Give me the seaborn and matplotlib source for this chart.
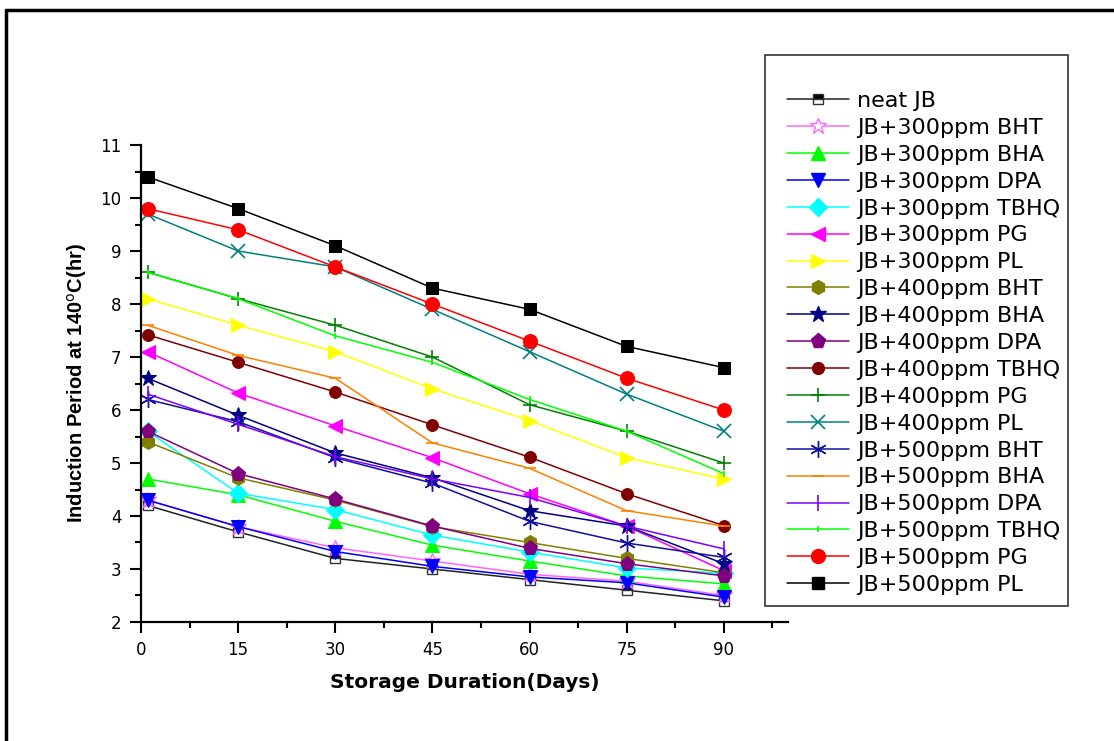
import matplotlib
matplotlib.use('Agg')
import matplotlib.pyplot as plt
import seaborn as sns
import pandas as pd
from matplotlib.ticker import MultipleLocator
from matplotlib.patches import Rectangle
from matplotlib.lines import Line2D

# storage days (first reading taken on day 1)
days = [1, 15, 30, 45, 60, 75, 90]

neat_jb = [4.2, 3.7, 3.2, 3.0, 2.8, 2.6, 2.4]
bht_300 = [4.3, 3.8, 3.4, 3.15, 2.9, 2.77, 2.5]
bha_300 = [4.7, 4.4, 3.9, 3.45, 3.15, 2.87, 2.72]
dpa_300 = [4.3, 3.8, 3.33, 3.05, 2.85, 2.74, 2.47]
tbhq_300 = [5.6, 4.43, 4.12, 3.64, 3.32, 3.02, 2.92]
pg_300 = [7.1, 6.32, 5.7, 5.1, 4.42, 3.81, 2.97]
pl_300 = [8.1, 7.6, 7.1, 6.4, 5.8, 5.1, 4.7]
bht_400 = [5.4, 4.72, 4.3, 3.8, 3.5, 3.2, 2.93]
bha_400 = [6.6, 5.9, 5.19, 4.72, 4.1, 3.81, 3.1]
dpa_400 = [5.6, 4.8, 4.32, 3.81, 3.39, 3.1, 2.87]
tbhq_400 = [7.42, 6.9, 6.34, 5.72, 5.11, 4.42, 3.82]
pg_400 = [8.6, 8.1, 7.6, 7.0, 6.1, 5.6, 5.0]
pl_400 = [9.7, 9.0, 8.7, 7.9, 7.1, 6.3, 5.6]
bht_500 = [6.2, 5.78, 5.1, 4.62, 3.9, 3.49, 3.22]
bha_500 = [7.6, 7.03, 6.6, 5.38, 4.9, 4.1, 3.81]
dpa_500 = [6.3, 5.73, 5.12, 4.7, 4.35, 3.81, 3.38]
tbhq_500 = [8.6, 8.1, 7.4, 6.9, 6.2, 5.6, 4.8]
pg_500 = [9.8, 9.4, 8.7, 8.0, 7.3, 6.6, 6.0]
pl_500 = [10.4, 9.8, 9.1, 8.3, 7.9, 7.2, 6.8]

labels = ['neat JB', 'JB+300ppm BHT', 'JB+300ppm BHA', 'JB+300ppm DPA', 'JB+300ppm TBHQ',
          'JB+300ppm PG', 'JB+300ppm PL', 'JB+400ppm BHT', 'JB+400ppm BHA', 'JB+400ppm DPA',
          'JB+400ppm TBHQ', 'JB+400ppm PG', 'JB+400ppm PL', 'JB+500ppm BHT', 'JB+500ppm BHA',
          'JB+500ppm DPA', 'JB+500ppm TBHQ', 'JB+500ppm PG', 'JB+500ppm PL']
series = [neat_jb, bht_300, bha_300, dpa_300, tbhq_300, pg_300, pl_300,
          bht_400, bha_400, dpa_400, tbhq_400, pg_400, pl_400,
          bht_500, bha_500, dpa_500, tbhq_500, pg_500, pl_500]

# line color, marker, marker size, extra marker style
styles = [
    ('#222222', 's', 7, dict(fillstyle='top', markerfacecolor='black', markerfacecoloralt='white', markeredgecolor='#333333', markeredgewidth=1)),
    ('#ff66ff', '*', 12, dict(markerfacecolor='white', markeredgecolor='#ff66ff', markeredgewidth=1)),
    ('#00ff00', '^', 10, {}),
    ('#0000ff', 'v', 10, {}),
    ('#00ffff', 'D', 9, {}),
    ('#ff00ff', '<', 10, {}),
    ('#ffff00', '>', 10, {}),
    ('#808000', 'h', 10, {}),
    ('#000080', '*', 12, {}),
    ('#800080', 'p', 11, {}),
    ('#800000', 'o', 8.5, {}),
    ('#008000', '+', 10, dict(markeredgewidth=1.2)),
    ('#008080', 'x', 10, dict(markeredgewidth=1.2)),
    ('#1010a0', (6, 2, 0), 12, dict(markeredgewidth=1.0)),
    ('#ff8000', '_', 9, dict(markeredgewidth=1.2)),
    ('#8000ff', '|', 11, dict(markeredgewidth=1.2)),
    ('#00ff00', '|', 5, dict(markeredgewidth=1.2)),
    ('#ff0000', 'o', 10, {}),
    ('#000000', 's', 9, {}),
]

sns.set_style('ticks')
# the original is stretched sideways, so the wider DejaVu face is used for horizontal text
plt.rcParams['font.family'] = ['DejaVu Sans']
plt.rcParams['text.color'] = 'black'
plt.rcParams['axes.labelcolor'] = 'black'
plt.rcParams['xtick.color'] = 'black'
plt.rcParams['ytick.color'] = 'black'

fig = plt.figure(figsize=(11.14, 7.41), dpi=100)
ax = fig.add_axes([0.1266, 0.1606, 0.5812, 0.6437])

handles = []
for lab, vals, (col, mk, ms, extra) in zip(labels, series, styles):
    df = pd.DataFrame({'day': days, 'value': vals})
    kw = dict(markeredgecolor=col, markerfacecolor=col)
    kw.update(extra)
    sns.lineplot(data=df, x='day', y='value', ax=ax, color=col, lw=1.1,
                 marker=mk, markersize=ms, label=lab, legend=False, **kw)
    handles.append(Line2D([], [], color=col, lw=1.1, marker=mk, markersize=ms, **kw))

ax.set_xlim(0, 100)
ax.set_ylim(2, 11)
ax.set_xticks([0, 15, 30, 45, 60, 75, 90])
ax.xaxis.set_minor_locator(MultipleLocator(7.5))
ax.yaxis.set_major_locator(MultipleLocator(1))
ax.yaxis.set_minor_locator(MultipleLocator(0.5))
ax.tick_params(which='major', direction='out', length=8, width=1.5, labelsize=12, color='black', pad=6)
ax.tick_params(which='minor', direction='out', length=4, width=1.5, color='black')
for s in ['top', 'right']:
    ax.spines[s].set_visible(False)
for s in ['left', 'bottom']:
    ax.spines[s].set_linewidth(1.6)
    ax.spines[s].set_color('black')
ax.grid(False)

ax.set_xlabel('Storage Duration(Days)', fontsize=14.5, fontweight='bold', labelpad=10)
ax.set_ylabel('Induction Period at 140$^{\\mathrm{o}}$C(hr)', fontsize=14.5, fontweight='bold',
              labelpad=8, family=['Liberation Sans', 'DejaVu Sans'])

# legend frame drawn separately (extra blank space on top, as in the original)
fig.patches.append(Rectangle((765 / 1114, 1 - 606 / 741), (1068 - 765) / 1114, (606 - 55) / 741,
                             transform=fig.transFigure, fill=False, edgecolor='#333333', lw=1.2))
fig.legend(handles, labels, loc='upper left', bbox_to_anchor=(787 / 1114, 1 - 91 / 741),
           frameon=False, fontsize=16, borderpad=0, labelspacing=0.31,
           handlelength=2.8, handletextpad=0.36, borderaxespad=0)

# outer border (top and left edges only)
fig.add_artist(Line2D([6 / 1114, 1.0], [1 - 10 / 741, 1 - 10 / 741], transform=fig.transFigure, color='black', lw=2.5))
fig.add_artist(Line2D([6 / 1114, 6 / 1114], [0, 1 - 10 / 741], transform=fig.transFigure, color='black', lw=2.5))

plt.savefig('out.png', dpi=100)
